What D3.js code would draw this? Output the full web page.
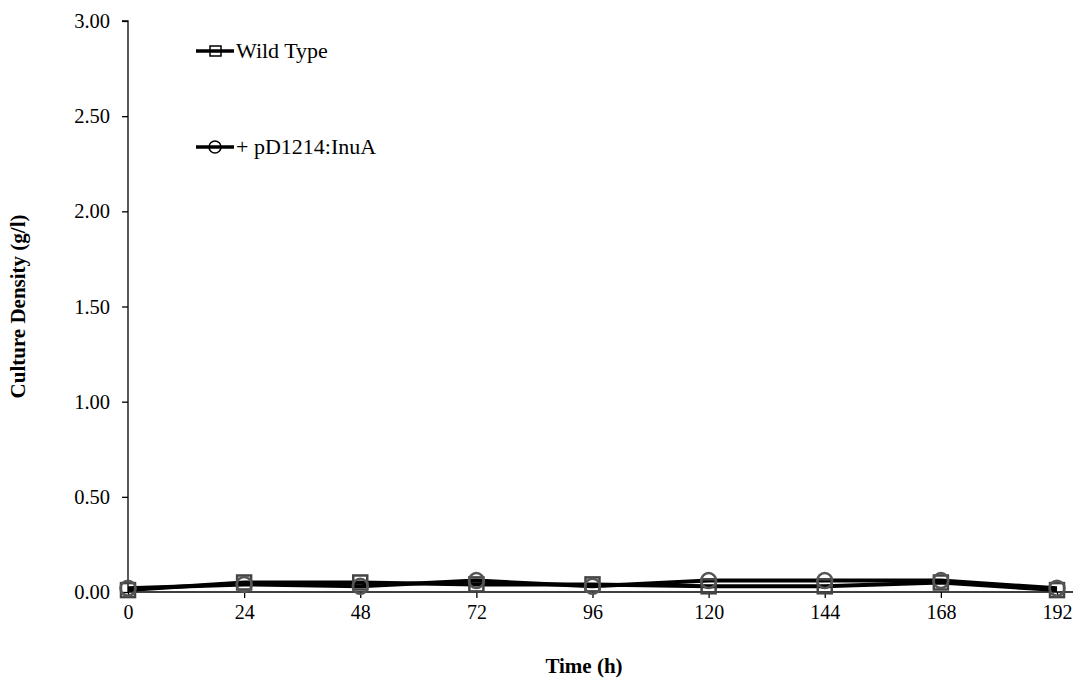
<!DOCTYPE html>
<html lang="en">
<head>
<meta charset="utf-8">
<script src="https://cdn.jsdelivr.net/npm/d3@7"></script>
<style>
  body { margin: 0; background: #fff; }
  text { font-family: "Liberation Serif", "Times New Roman", serif; }
</style>
</head>
<body>
<script>
// data
var times = [0, 24, 48, 72, 96, 120, 144, 168, 192];
var wildType = [0.01, 0.05, 0.05, 0.04, 0.04, 0.03, 0.03, 0.05, 0.01];
var inuA = [0.02, 0.04, 0.03, 0.06, 0.03, 0.06, 0.06, 0.06, 0.02];
var yTicks = [0, 0.5, 1, 1.5, 2, 2.5, 3];
var seriesNames = ["Wild Type", "+ pD1214:InuA"];

var w = 1073, h = 679;
var pLeft = 128, pRight = 1057, pTop = 21, pBottom = 592;

var svg = d3.select("body").append("svg")
  .attr("width", w)
  .attr("height", h);

var x = d3.scaleLinear().domain([0, 192]).range([pLeft, pRight]);
var y = d3.scaleLinear().domain([0, 3]).range([pBottom, pTop]);

// y axis
var yAxis = d3.axisLeft(y).tickValues(yTicks).tickFormat(d3.format(".2f")).tickSize(6).tickPadding(12);
var gy = svg.append("g").attr("transform", "translate(" + pLeft + ",0)").call(yAxis);
gy.select(".domain").attr("stroke", "#000").attr("stroke-width", 1.3).attr("d", "M-6," + pTop + "H0V" + pBottom);
gy.selectAll(".tick line").attr("stroke-width", 1.3);
gy.selectAll("text").style("font-size", "20.5px").attr("fill", "#000");

// x axis
var xAxis = d3.axisBottom(x).tickValues(times).tickSize(6).tickPadding(7);
var gx = svg.append("g").attr("transform", "translate(0," + pBottom + ")").call(xAxis);
gx.select(".domain").attr("stroke", "#000").attr("stroke-width", 1.3).attr("d", "M" + pLeft + ",0H" + w);
gx.selectAll(".tick line").attr("stroke-width", 1.3);
gx.selectAll("text").style("font-size", "20px").attr("fill", "#000");

// titles
svg.append("text")
  .attr("x", 584)
  .attr("y", 673)
  .attr("text-anchor", "middle")
  .style("font-size", "21px")
  .style("font-weight", "bold")
  .text("Time (h)");

svg.append("text")
  .attr("transform", "translate(25," + ((pTop + pBottom) / 2) + ") rotate(-90)")
  .attr("text-anchor", "middle")
  .style("font-size", "21px")
  .style("font-weight", "bold")
  .text("Culture Density (g/l)");

var line = d3.line().x(function(d, i) { return x(times[i]); }).y(function(d) { return y(d); });

// lines
[wildType, inuA].forEach(function(s) {
  svg.append("path")
    .datum(s)
    .attr("d", line)
    .attr("fill", "none")
    .attr("stroke", "#000")
    .attr("stroke-width", 4);
});

// markers
svg.selectAll(".sq")
  .data(wildType)
  .enter().append("rect")
  .attr("x", function(d, i) { return x(times[i]) - 7; })
  .attr("y", function(d) { return y(d) - 7; })
  .attr("width", 14).attr("height", 14)
  .attr("fill", "none")
  .attr("stroke", "#444")
  .attr("stroke-width", 2.5);

svg.selectAll(".ci")
  .data(inuA)
  .enter().append("circle")
  .attr("cx", function(d, i) { return x(times[i]); })
  .attr("cy", function(d) { return y(d); })
  .attr("r", 7.5)
  .attr("fill", "none")
  .attr("stroke", "#555")
  .attr("stroke-width", 2.5);

// legend
var legY = [51, 147];
seriesNames.forEach(function(name, i) {
  var g = svg.append("g").attr("transform", "translate(0," + legY[i] + ")");
  g.append("line").attr("x1", 196).attr("x2", 234).attr("y1", 0).attr("y2", 0)
    .attr("stroke", "#000").attr("stroke-width", 3.5);
  if (i == 0) {
    g.append("rect").attr("x", 210).attr("y", -5).attr("width", 11).attr("height", 10)
      .attr("fill", "none").attr("stroke", "#000").attr("stroke-width", 1.5);
  } else {
    g.append("circle").attr("cx", 215).attr("cy", 0).attr("r", 6)
      .attr("fill", "none").attr("stroke", "#000").attr("stroke-width", 1.5);
  }
  g.append("text").attr("x", 236).attr("y", 7)
    .style("font-size", "22px")
    .text(name);
});
</script>
</body>
</html>
